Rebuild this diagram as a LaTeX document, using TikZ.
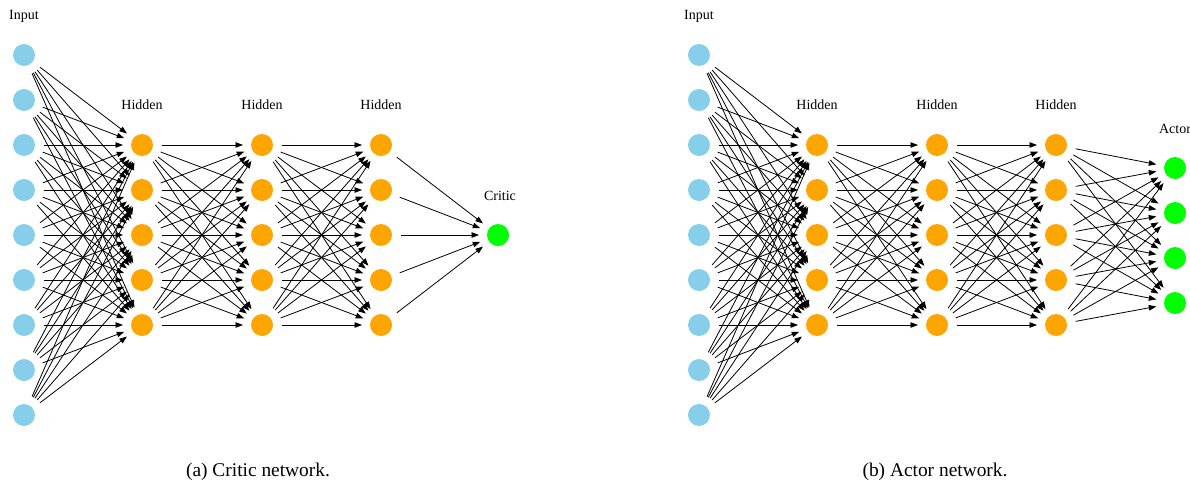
\documentclass[tikz,border=0pt]{standalone}
\usepackage{fontspec}
\setmainfont{Liberation Serif}
\usetikzlibrary{arrows.meta}
\definecolor{skyblue}{RGB}{135,206,235}
\definecolor{nnorange}{RGB}{255,165,0}
\definecolor{nngreen}{RGB}{0,255,0}
\begin{document}
\begin{tikzpicture}[x=1pt,y=-1pt,
  neuron/.style={circle,minimum size=22pt,inner sep=0pt,outer sep=0pt},
  inp/.style={neuron,fill=skyblue},
  hid/.style={neuron,fill=nnorange},
  outn/.style={neuron,fill=nngreen},
  conn/.style={-{Triangle[length=7.5pt,width=5.5pt]},line width=0.8pt,shorten <=9pt,shorten >=8pt},
  lbl/.style={font=\fontsize{14}{16}\selectfont,inner sep=0pt},
  captext/.style={font=\fontsize{19.4}{22}\selectfont,inner sep=0pt}]
\useasboundingbox (0,0) rectangle (1190,487);
\clip (0,0) rectangle (1190,487);
\foreach \p/\dx in {a/0,b/675} {
  \foreach \k in {1,...,9} \node[inp] (\p-in-\k) at (24+\dx, 10+45*\k) {};
  \foreach \l/\x in {1/142,2/262,3/381} {
    \foreach \k in {1,...,5} \node[hid] (\p-h\l-\k) at (\x+\dx, 100+45*\k) {};
    \node[lbl] (\p-hl-\l) at (\x+\dx, 105) {Hidden};
  }
  \node[lbl] (\p-inl) at (24+\dx, 16) {Input};
}
% critic output
\node[outn] (a-out-1) at (498, 235) {};
\node[lbl] (a-outl) at (500, 196) {Critic};
% actor outputs
\foreach \k in {1,...,4} \node[outn] (b-out-\k) at (1175, 123+45*\k) {};
\node[lbl] (b-outl) at (1175, 129) {Actor};
% connections
\foreach \p in {a,b} {
  \foreach \i in {1,...,9} \foreach \j in {1,...,5} \draw[conn] (\p-in-\i) -- (\p-h1-\j);
  \foreach \i in {1,...,5} \foreach \j in {1,...,5} {
    \draw[conn] (\p-h1-\i) -- (\p-h2-\j);
    \draw[conn] (\p-h2-\i) -- (\p-h3-\j);
  }
}
\foreach \i in {1,...,5} \draw[conn] (a-h3-\i) -- (a-out-1);
\foreach \i in {1,...,5} \foreach \j in {1,...,4} \draw[conn] (b-h3-\i) -- (b-out-\j);
% captions
\node[captext] (capa) at (258, 472) {(a) Critic network.};
\node[captext] (capb) at (935, 472) {(b) Actor network.};
\end{tikzpicture}
\end{document}
